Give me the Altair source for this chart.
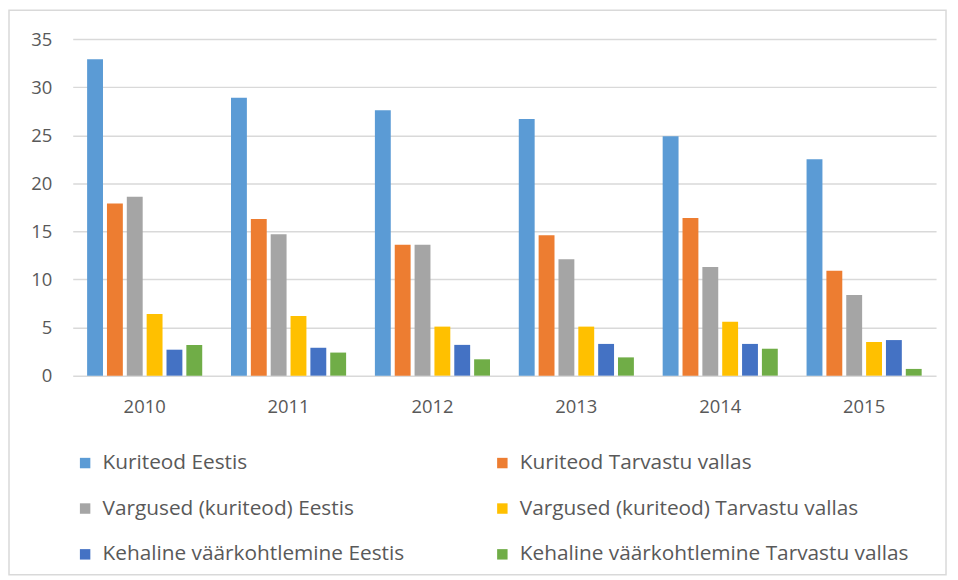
import altair as alt
import pandas as pd

years = ["2010", "2011", "2012", "2013", "2014", "2015"]
series = [
    "Kuriteod Eestis",
    "Kuriteod Tarvastu vallas",
    "Vargused (kuriteod) Eestis",
    "Vargused (kuriteod) Tarvastu vallas",
    "Kehaline väärkohtlemine Eestis",
    "Kehaline väärkohtlemine Tarvastu vallas",
]
kuriteod_eestis = [32.9, 28.9, 27.6, 26.7, 24.9, 22.5]
kuriteod_tarvastu = [17.9, 16.3, 13.6, 14.6, 16.4, 10.9]
vargused_eestis = [18.6, 14.7, 13.6, 12.1, 11.3, 8.4]
vargused_tarvastu = [6.4, 6.2, 5.1, 5.1, 5.6, 3.5]
kehaline_eestis = [2.7, 2.9, 3.2, 3.3, 3.3, 3.7]
kehaline_tarvastu = [3.2, 2.4, 1.7, 1.9, 2.8, 0.7]
colors = ["#5B9BD5", "#ED7D31", "#A5A5A5", "#FFC000", "#4472C4", "#70AD47"]

values = [kuriteod_eestis, kuriteod_tarvastu, vargused_eestis,
          vargused_tarvastu, kehaline_eestis, kehaline_tarvastu]
rows = []
for s, vals in zip(series, values):
    for y, v in zip(years, vals):
        rows.append({"year": y, "series": s, "value": v})
df = pd.DataFrame(rows)

# legend is filled column by column: order entries so rows read left-to-right
legend_order = [series[0], series[2], series[4], series[1], series[3], series[5]]

FONT = "Open Sans"
TXT = "#595959"

bars = alt.Chart(df).mark_bar().encode(
    x=alt.X("year:N", sort=years, title=None,
            scale=alt.Scale(paddingInner=0.2, paddingOuter=0.1),
            axis=alt.Axis(labelAngle=0, ticks=False, domain=False, grid=False,
                          labelFont=FONT, labelFontSize=18.5, labelColor=TXT,
                          labelPadding=22)),
    xOffset=alt.XOffset("series:N", sort=series,
                        scale=alt.Scale(paddingInner=0.2, paddingOuter=0)),
    y=alt.Y("value:Q", title=None,
            scale=alt.Scale(domain=[0, 35], nice=False),
            axis=alt.Axis(values=[0, 5, 10, 15, 20, 25, 30, 35], ticks=False,
                          domain=False, gridColor="#D9D9D9", gridWidth=1.5,
                          labelFont=FONT, labelFontSize=18.5, labelColor=TXT,
                          labelPadding=21)),
    color=alt.Color("series:N", sort=series, title=None,
                    scale=alt.Scale(domain=series, range=colors),
                    legend=alt.Legend(orient="none", legendX=2, legendY=415,
                                      values=legend_order,
                                      columns=2, columnPadding=88,
                                      rowPadding=24, symbolType="square",
                                      symbolSize=110, symbolStrokeWidth=0,
                                      labelFont=FONT, labelFontSize=20.9,
                                      labelColor=TXT, labelLimit=500,
                                      labelOffset=7, padding=0)),
)

border = alt.Chart(pd.DataFrame({"a": [0]})).mark_rect(
    fill="white", fillOpacity=0, stroke="#D9D9D9", strokeWidth=1.5
).encode(x=alt.value(-64), x2=alt.value(877), y=alt.value(-29), y2=alt.value(538))

chart = alt.layer(border, bars).properties(
    width=867, height=338,
    autosize=alt.AutoSizeParams(type="none"),
    padding={"left": 65, "top": 30, "right": 14, "bottom": 204},
).configure_view(stroke=None)

chart.save("out.html", embed_options={"renderer": "svg", "actions": False})
